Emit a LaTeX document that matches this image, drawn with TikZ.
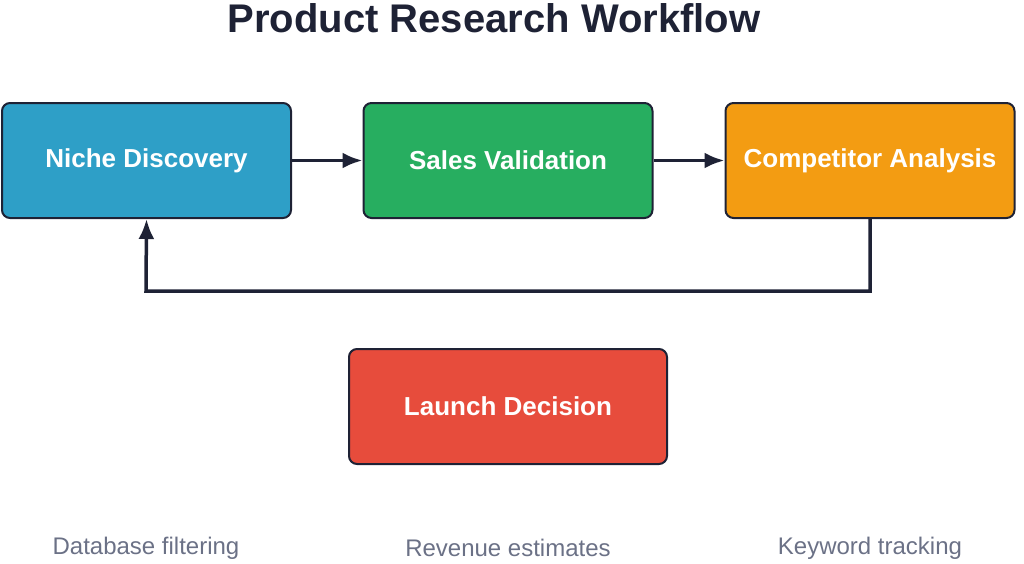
\documentclass[tikz,border=0pt]{standalone}
\usepackage{fontspec}
\setmainfont{Liberation Sans}
\usetikzlibrary{arrows.meta,positioning}
\definecolor{nicheblue}{HTML}{2E9FC7}
\definecolor{salesgreen}{HTML}{27AE60}
\definecolor{comporange}{HTML}{F39C12}
\definecolor{launchred}{HTML}{E74C3C}
\definecolor{inkdark}{HTML}{1E2235}
\definecolor{notegray}{HTML}{6B7186}

\begin{document}
\begin{tikzpicture}[x=1pt,y=-1pt,
  stage/.style={draw=inkdark, line width=2pt, rounded corners=8pt, minimum width=289pt, minimum height=115pt, text=white, font=\fontsize{26}{30}\selectfont\bfseries},
  link/.style={draw=inkdark, line width=3.5pt, -{Latex[length=20pt,width=16pt]}},
  note/.style={text=notegray, font=\fontsize{24}{28}\selectfont}]
     \useasboundingbox (0,0) rectangle (1024,563);
     \node[font=\fontsize{40}{46}\selectfont\bfseries, text=inkdark] (title) at (494,18) {Product Research Workflow};
     \node[stage, fill=nicheblue] (niche) at (146.5,160.5) {Niche Discovery};
     \node[stage, fill=salesgreen] (sales) at (508,160.5) {Sales Validation};
     \node[stage, fill=comporange] (comp) at (870,160.5) {Competitor Analysis};
     \node[stage, fill=launchred, minimum width=318pt] (launch) at (508,406.5) {Launch Decision};
     \draw[link] (niche) -- (sales);
     \draw[link] (sales) -- (comp);
     \draw[link] (comp.south) |- (146,291) -- (niche.south);
     \node[note] (dbnote) at (146,548) {Database filtering};
     \node[note] (revnote) at (508,548) {Revenue estimates};
     \node[note] (kwnote) at (870,548) {Keyword tracking};
\end{tikzpicture}
\end{document}
